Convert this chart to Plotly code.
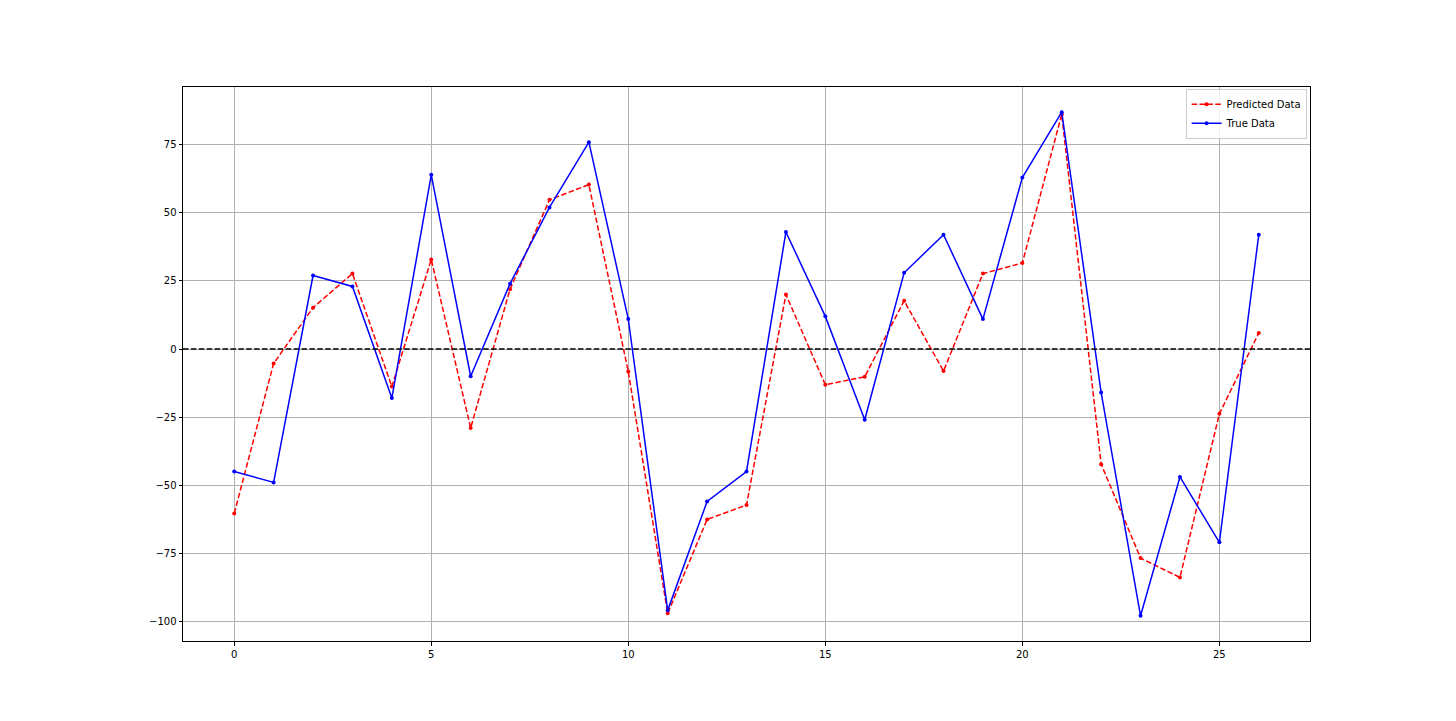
import plotly.graph_objects as go

x_vals = list(range(27))
true_data = [-45, -49, 27, 23, -18, 64, -10, 24, 52, 76, 11, -96, -56, -45, 43, 12, -26, 28, 42, 11, 63, 87, -16, -98, -47, -71, 42]
predicted_data = [-60.4, -5.3, 15.2, 27.7, -13.8, 32.9, -29.0, 22.0, 54.8, 60.4, -8.3, -97.1, -62.6, -57.3, 20.0, -13.1, -10.2, 17.7, -8.1, 27.7, 31.6, 86.2, -42.3, -76.8, -83.9, -23.8, 5.9]
x_ticks = [0, 5, 10, 15, 20, 25]
y_ticks = [-100, -75, -50, -25, 0, 25, 50, 75]

fig = go.Figure()
fig.add_trace(go.Scatter(
    x=x_vals, y=predicted_data, mode="lines+markers", name="Predicted Data",
    line=dict(color="red", width=1.5, dash="5.5px,2.4px"),
    marker=dict(color="red", size=4),
))
fig.add_trace(go.Scatter(
    x=x_vals, y=true_data, mode="lines+markers", name="True Data",
    line=dict(color="blue", width=1.5),
    marker=dict(color="blue", size=4),
))
fig.add_hline(y=0, line=dict(color="black", width=1.5, dash="5.5px,2.4px"))

axis_common = dict(
    showgrid=True, gridcolor="#b0b0b0", gridwidth=0.8,
    showline=True, linecolor="black", linewidth=1, mirror=True,
    ticks="outside", ticklen=3.5, tickcolor="black", tickwidth=0.8,
    zeroline=False,
    tickfont=dict(family="DejaVu Sans", size=10, color="black"),
)
fig.update_xaxes(range=[-1.3, 27.3], tickvals=x_ticks, **axis_common)
fig.update_yaxes(range=[-107.25, 96.25], tickvals=y_ticks, **axis_common)

fig.update_layout(
    width=1456, height=721,
    margin=dict(l=175, r=154, t=79, b=88),
    plot_bgcolor="white", paper_bgcolor="white",
    showlegend=True,
    legend=dict(
        x=0.997, y=0.997, xanchor="right", yanchor="top",
        bgcolor="rgba(255,255,255,0.8)", bordercolor="#cccccc", borderwidth=1,
        font=dict(family="DejaVu Sans", size=10, color="black"),
        tracegroupgap=0, itemwidth=30,
    ),
)
fig.write_html("out.html")
